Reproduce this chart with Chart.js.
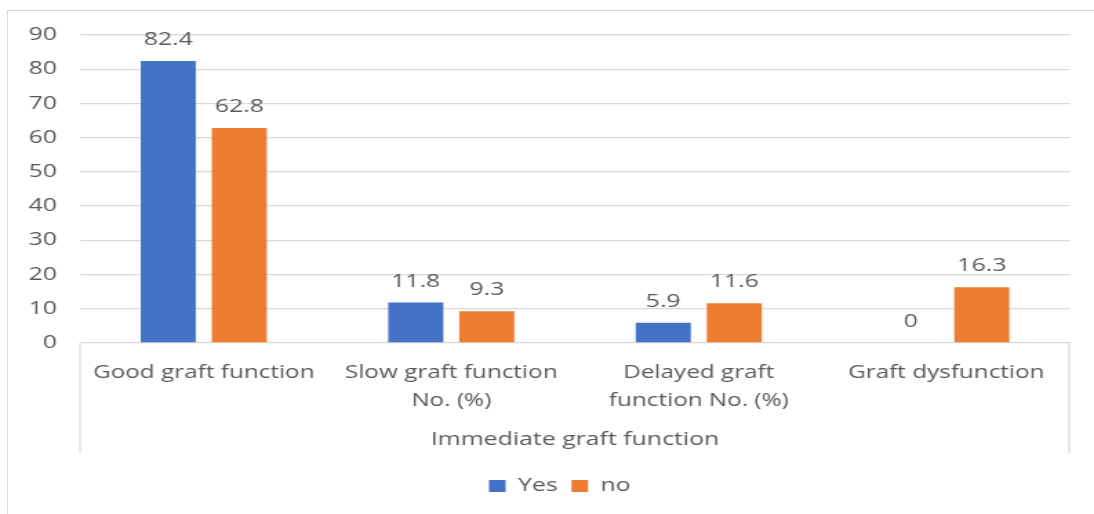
<!DOCTYPE html>
<html>
<head>
<meta charset="utf-8">
<script src="https://cdn.jsdelivr.net/npm/chart.js@4/dist/chart.umd.min.js"></script>
<style>
  html, body { margin: 0; padding: 0; background: #fff; width: 1094px; height: 514px; overflow: hidden; }
  #frame { position: absolute; left: 7px; top: 10px; width: 1200px; height: 600px; border: 1px solid #d9d9d9; box-sizing: border-box; }
  /* the chart is drawn narrow and widened, giving the broad lettering of the figure */
  #wrap { position: absolute; left: 0; top: 0; width: 793px; height: 514px; transform: scaleX(1.3796); transform-origin: 0 0; }
</style>
</head>
<body>
<div id="frame"></div>
<div id="wrap"><canvas id="chart"></canvas></div>
<script>
// Immediate graft function by group
const categories = ["Good graft function", ["Slow graft function", "No. (%)"], ["Delayed graft", "function No. (%)"], "Graft dysfunction"];
const yesValues = [82.4, 11.8, 5.9, 0];
const noValues = [62.8, 9.3, 11.6, 16.3];
const seriesNames = ["Yes", "no"];
const groupTitle = "Immediate graft function";
const yMin = 0, yMax = 90, yStep = 10;

const FONT = '"Open Sans", "Noto Sans", sans-serif';
const TEXT = '#595959';
const GRID = '#d9d9d9';

// value above each bar
const valueLabels = {
  id: 'valueLabels',
  afterDatasetsDraw(chart) {
    const ctx = chart.ctx;
    ctx.save();
    ctx.font = '18px ' + FONT;
    ctx.fillStyle = TEXT;
    ctx.textAlign = 'center';
    ctx.textBaseline = 'middle';
    chart.data.datasets.forEach((ds, i) => {
      chart.getDatasetMeta(i).data.forEach((bar, j) => {
        ctx.fillText(String(ds.data[j]), bar.x, bar.y - 21);
      });
    });
    ctx.restore();
  }
};

// side rules enclosing the category labels and the group title
const groupFrame = {
  id: 'groupFrame',
  afterDraw(chart) {
    const x = chart.scales.x;
    const ctx = chart.ctx;
    ctx.save();
    ctx.strokeStyle = GRID;
    ctx.lineWidth = 1.2;
    ctx.beginPath();
    [chart.chartArea.left, chart.chartArea.right - 0.7].forEach(px => {
      ctx.moveTo(px, x.top);
      ctx.lineTo(px, x.top + 110);
    });
    ctx.stroke();
    ctx.restore();
  }
};

// legend sits a little right of the canvas centre
const legendShift = {
  id: 'legendShift',
  afterLayout(chart) {
    chart.legend.left += 18;
    chart.legend.right += 18;
  }
};

new Chart(document.getElementById('chart'), {
  type: 'bar',
  data: {
    labels: categories,
    datasets: [
      { label: seriesNames[0], data: yesValues, backgroundColor: '#4472C4' },
      { label: seriesNames[1], data: noValues, backgroundColor: '#ED7D31' }
    ]
  },
  options: {
    responsive: true,
    maintainAspectRatio: false,
    animation: false,
    categoryPercentage: 0.574,
    barPercentage: 0.775,
    layout: { padding: { left: 0, right: 17.4, top: 35, bottom: 9 } },
    plugins: {
      tooltip: { enabled: false },
      legend: {
        position: 'bottom',
        labels: {
          boxWidth: 12, boxHeight: 12, padding: 10,
          color: TEXT,
          font: { family: FONT, size: 18 }
        }
      }
    },
    scales: {
      x: {
        grid: { display: false, drawTicks: false },
        border: { display: false },
        ticks: { color: TEXT, padding: 15.5, font: { family: FONT, size: 17.6, lineHeight: 1.5909 }, maxRotation: 0, autoSkip: false },
        title: { display: true, text: groupTitle, color: TEXT, font: { family: FONT, size: 18 }, padding: { top: 0, bottom: 16.2 } },
        afterFit(scale) { scale.height = 124; }
      },
      y: {
        min: yMin, max: yMax,
        grid: { color: GRID, lineWidth: 1.3, drawTicks: false },
        border: { display: false },
        ticks: { stepSize: yStep, color: TEXT, padding: 16.7, font: { family: FONT, size: 18 } },
        afterFit(scale) { scale.width = 58; }
      }
    }
  },
  plugins: [valueLabels, groupFrame, legendShift]
});
</script>
</body>
</html>
